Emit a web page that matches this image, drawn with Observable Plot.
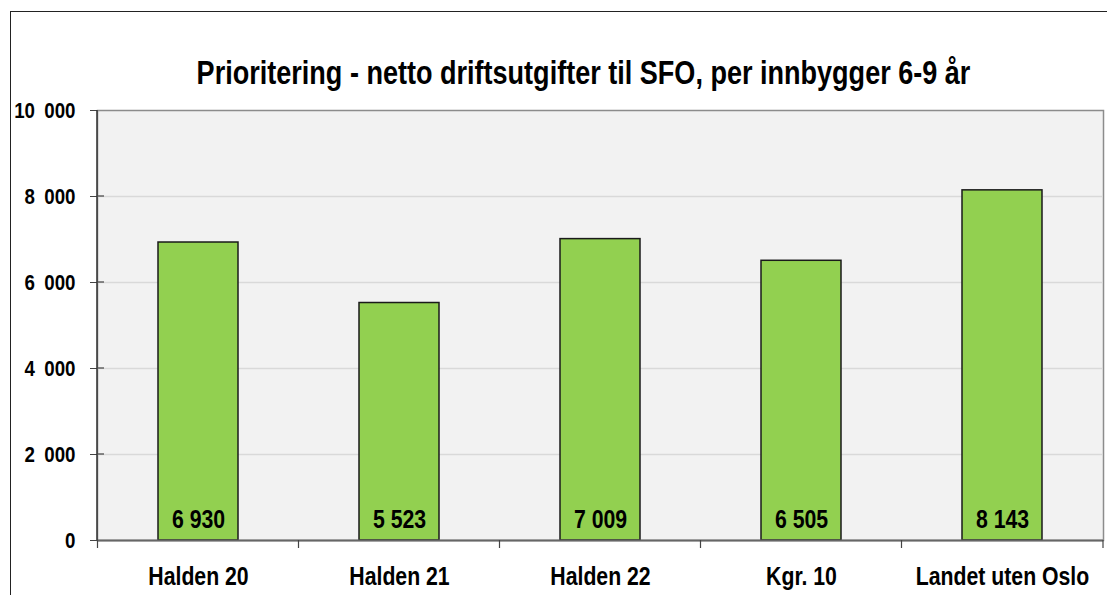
<!DOCTYPE html>
<html>
<head>
<meta charset="utf-8">
<script src="https://cdn.jsdelivr.net/npm/d3@7"></script>
<script src="https://cdn.jsdelivr.net/npm/@observablehq/plot@0.6"></script>
<style>
  html, body { margin: 0; padding: 0; background: #fff; overflow: hidden; }
  #wrap { position: relative; width: 1107px; height: 595px; overflow: hidden; }
  #border { position: absolute; left: 10px; top: 11px; width: 1300px; height: 800px; border: 1.5px solid #222; box-sizing: border-box; }
  #chart { position: absolute; left: 0; top: 0; }
</style>
</head>
<body>
<div id="wrap"><div id="border"></div><div id="chart"></div></div>
<script>
const title = "Prioritering - netto driftsutgifter til SFO, per innbygger 6-9 år";
const categories = ["Halden 20", "Halden 21", "Halden 22", "Kgr. 10", "Landet uten Oslo"];
const values = [6930, 5523, 7009, 6505, 8143];
const yTicks = [0, 2000, 4000, 6000, 8000, 10000];
const gridTicks = [2000, 4000, 6000, 8000];

const data = categories.map((c, i) => ({category: c, value: values[i]}));
const font = "'Liberation Sans Narrow', 'Arial Narrow', 'Liberation Sans', Arial, sans-serif";
const fmtTick = d => d === 0 ? "0" : d3.format(",")(d).replace(",", "\u2002");
const fmtVal = d => d3.format(",")(d).replace(",", " ");

const plot = Plot.plot({
  width: 1107,
  height: 595,
  marginLeft: 97,
  marginRight: 4,
  marginTop: 110,
  marginBottom: 55,
  style: {fontFamily: font, fontWeight: "bold", color: "#000", background: "transparent", overflow: "visible"},
  x: {domain: categories, paddingInner: 0.6, paddingOuter: 0.3, label: null},
  y: {domain: [0, 10000], ticks: yTicks, label: null, tickFormat: fmtTick},
  marks: [
    Plot.frame({fill: "#f2f2f2", stroke: "#8c8c8c", strokeWidth: 1.5}),
    Plot.gridY(gridTicks, {stroke: "#d9d9d9", strokeOpacity: 1, strokeWidth: 1.5}),
    Plot.axisY({ticks: yTicks, tickSize: 7, tickPadding: 15, fontSize: 22, tickFormat: fmtTick, stroke: "#444"}),
    Plot.axisX({tickSize: 0, tickPadding: 27, fontSize: 25}),
    Plot.barY(data, {x: "category", y: "value", fill: "#92d050", stroke: "#1a1a1a", strokeWidth: 1.5}),
    Plot.text(data, {x: "category", y: 0, text: d => fmtVal(d.value), dy: -13, lineAnchor: "bottom", fontSize: 25, fill: "#000"}),
    Plot.ruleY([0], {stroke: "#666", strokeWidth: 2}),
    Plot.text([title], {frameAnchor: "top", dx: -17, dy: -27, lineAnchor: "bottom", fontSize: 33, fill: "#000"})
  ]
});

// left axis line and category boundary ticks, positioned from the plot's own scales
const xs = plot.scale("x");
const ys = plot.scale("y");
const svg = d3.select(plot);
const [x0, x1] = xs.range;
const yBottom = ys.apply(0), yTop = ys.apply(10000);
svg.append("line").attr("x1", x0).attr("x2", x0).attr("y1", yTop).attr("y2", yBottom)
  .attr("stroke", "#333").attr("stroke-width", 1.5);
const boundaries = categories.map(c => xs.apply(c) - (xs.step - xs.bandwidth) / 2).concat([x1]);
svg.append("g").selectAll("line").data(boundaries).join("line")
  .attr("x1", d => d).attr("x2", d => d).attr("y1", yBottom).attr("y2", yBottom + 8)
  .attr("stroke", "#444").attr("stroke-width", 1.2);
svg.append("g").selectAll("line").data(gridTicks).join("line")
  .attr("x1", x0).attr("x2", x0 + 7).attr("y1", d => ys.apply(d)).attr("y2", d => ys.apply(d))
  .attr("stroke", "#444").attr("stroke-width", 1.2);

document.getElementById("chart").appendChild(plot);

// Emulate a narrow (condensed) bold face: no Arial Narrow is installed,
// so compress each text horizontally around its own anchor point.
svg.selectAll("text").each(function() {
  const el = this;
  const ratio = el.textContent === title ? 0.82 : 0.85;
  const ax = parseFloat(el.getAttribute("x")) || 0;
  const prev = el.getAttribute("transform") || "";
  el.setAttribute("transform", `${prev} translate(${ax},0) scale(${ratio},1) translate(${-ax},0)`.trim());
});
</script>
</body>
</html>
